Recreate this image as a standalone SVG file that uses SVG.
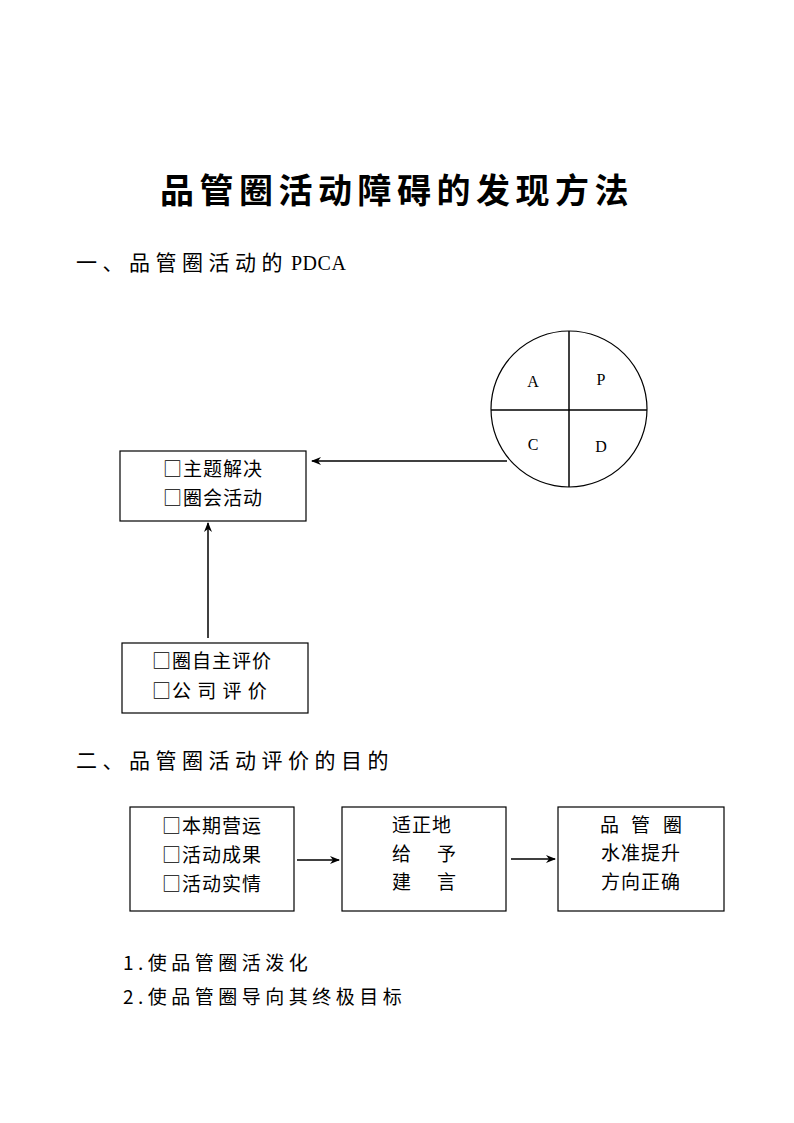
<svg xmlns="http://www.w3.org/2000/svg" width="794" height="1123" viewBox="0 0 794 1123">
<style>
text{font-family:"Liberation Serif","Noto Sans CJK SC",serif;fill:#000}
.cj{font-family:"Noto Sans CJK SC","Liberation Sans",sans-serif}
.t{font-size:34px;font-weight:bold;letter-spacing:5.5px}
.h{font-size:21px;letter-spacing:5.5px}
.b{font-size:19px;letter-spacing:1px}
.l{font-size:19px;letter-spacing:4.5px}
.box{fill:#fff;stroke:#000;stroke-width:1.2}
.ln{stroke:#000;stroke-width:1.5;fill:none}
.lt{font-size:16px}
</style>
<defs>
<marker id="ah" markerWidth="10" markerHeight="8" refX="9" refY="4" orient="auto" markerUnits="userSpaceOnUse">
<path d="M0,0 L10,4 L0,8 L3,4 Z" fill="#000"/>
</marker>
</defs>
<text class="t cj" x="397" y="203" text-anchor="middle">品管圈活动障碍的发现方法</text>
<text class="h cj" x="76" y="270">一、品管圈活动的<tspan x="291" font-family="Liberation Serif" font-size="20" style="letter-spacing:0.5px">PDCA</tspan></text>
<g id="pdca">
<circle cx="569" cy="409" r="78" fill="#fff" stroke="#000" stroke-width="1.2"/>
<line class="ln" x1="569" y1="331" x2="569" y2="487"/>
<line class="ln" x1="491" y1="410" x2="647" y2="410"/>
<text class="lt" x="533" y="387" text-anchor="middle">A</text>
<text class="lt" x="601" y="385" text-anchor="middle">P</text>
<text class="lt" x="533" y="450" text-anchor="middle">C</text>
<text class="lt" x="601" y="452" text-anchor="middle">D</text>
</g>
<g id="solve">
<rect class="box" x="120" y="451" width="186" height="70"/>
<text class="b cj" x="163" y="476">□主题解决</text>
<text class="b cj" x="163" y="505">□圈会活动</text>
</g>
<g id="evaluate">
<rect class="box" x="122" y="643" width="186" height="70"/>
<text class="b cj" x="152" y="668">□圈自主评价</text>
<text class="b cj" x="152" y="698" style="letter-spacing:1px">□公 司 评 价</text>
</g>
<text class="h cj" x="76" y="768">二、品管圈活动评价的目的</text>
<g id="results">
<rect class="box" x="130" y="807" width="164" height="104"/>
<text class="b cj" x="162" y="833">□本期营运</text>
<text class="b cj" x="162" y="862">□活动成果</text>
<text class="b cj" x="162" y="891">□活动实情</text>
</g>
<g id="advice">
<rect class="box" x="342" y="807" width="164" height="104"/>
<text class="b cj" x="392" y="832">适正地</text>
<text class="b cj" x="392" y="861">给<tspan x="437">予</tspan></text>
<text class="b cj" x="392" y="889">建<tspan x="437">言</tspan></text>
</g>
<g id="direction">
<rect class="box" x="558" y="807" width="166" height="104"/>
<text class="b cj" x="600" y="832">品<tspan x="631">管</tspan><tspan x="663">圈</tspan></text>
<text class="b cj" x="641" y="860" text-anchor="middle">水准提升</text>
<text class="b cj" x="641" y="889" text-anchor="middle">方向正确</text>
</g>
<g id="connectors">
<line class="ln" x1="507" y1="461" x2="312" y2="461" marker-end="url(#ah)"/>
<line class="ln" x1="208" y1="638" x2="208" y2="523" marker-end="url(#ah)"/>
<line class="ln" x1="297" y1="860" x2="339" y2="860" marker-end="url(#ah)"/>
<line class="ln" x1="511" y1="859" x2="555" y2="859" marker-end="url(#ah)"/>
</g>
<text class="l cj" x="123" y="970">1.使品管圈活泼化</text>
<text class="l cj" x="123" y="1004">2.使品管圈导向其终极目标</text>
</svg>
